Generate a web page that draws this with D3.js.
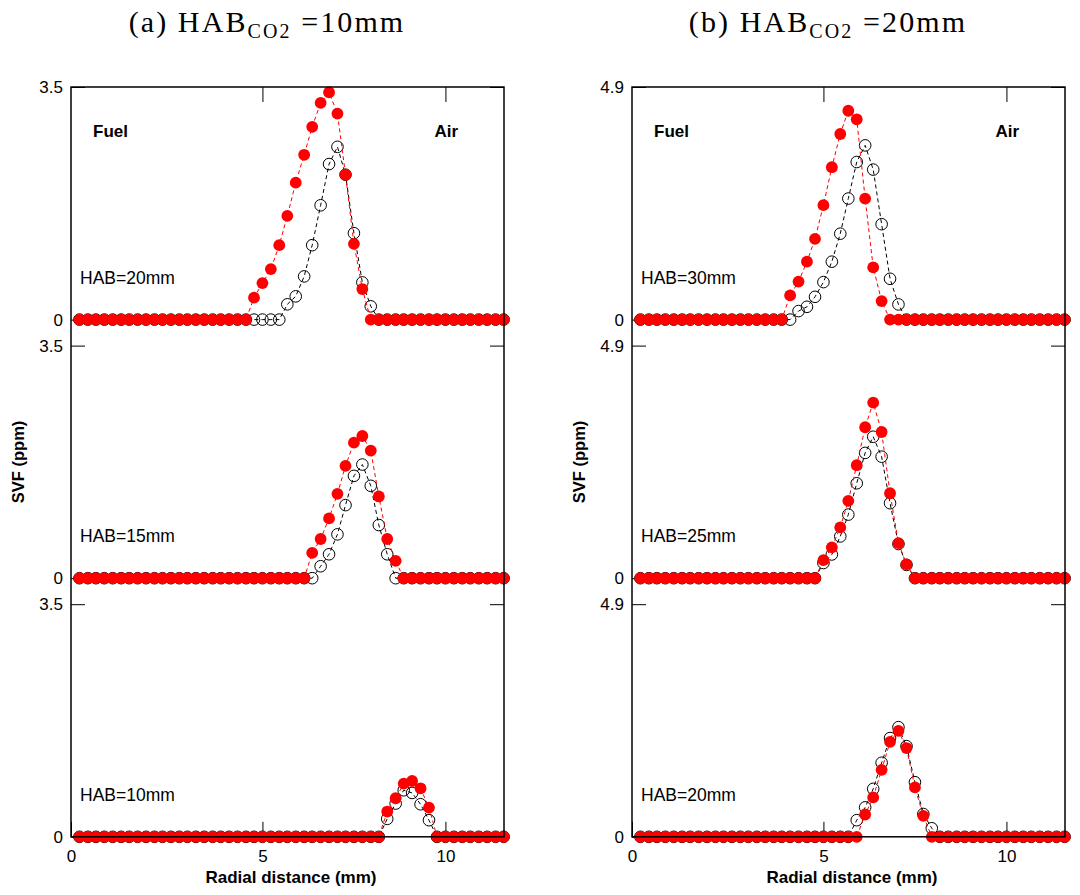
<!DOCTYPE html>
<html>
<head>
<meta charset="utf-8">
<script src="https://cdn.jsdelivr.net/npm/d3@7"></script>
<style>
  body { margin: 0; background: #fff; }
  text { font-family: "Liberation Sans", Arial, sans-serif; }
</style>
</head>
<body>
<script>
// radial positions (mm), shared by every profile
const radial = [0.00, 0.23, 0.45, 0.68, 0.91, 1.14, 1.36, 1.59, 1.82, 2.05,
  2.27, 2.50, 2.73, 2.95, 3.18, 3.41, 3.64, 3.86, 4.09, 4.32,
  4.55, 4.77, 5.00, 5.23, 5.46, 5.68, 5.91, 6.14, 6.36, 6.59,
  6.82, 7.05, 7.27, 7.50, 7.73, 7.96, 8.18, 8.41, 8.64, 8.86,
  9.09, 9.32, 9.55, 9.77, 10.00, 10.23, 10.46, 10.68, 10.91, 11.14,
  11.37, 11.59];

// (a) HAB_CO2 = 10mm
const a20open = [0,0,0,0,0,0,0,0,0,0, 0,0,0,0,0,0,0,0,0,0,
  0,0,0,0,0,0.23,0.35,0.65,1.12,1.72, 2.34,2.60,2.18,1.30,0.56,0.20,0,0,0,0,
  0,0,0,0,0,0,0,0,0,0, 0,0];
const a20red = [0,0,0,0,0,0,0,0,0,0, 0,0,0,0,0,0,0,0,0,0,
  0,0.33,0.55,0.76,1.12,1.56,2.06,2.48,2.90,3.26, 3.42,3.10,2.18,1.14,0.46,0,0,0,0,0,
  0,0,0,0,0,0,0,0,0,0, 0,0];
const a15open = [0,0,0,0,0,0,0,0,0,0, 0,0,0,0,0,0,0,0,0,0,
  0,0,0,0,0,0,0,0,0,0.18, 0.36,0.66,1.10,1.54,1.71,1.39,0.80,0.36,0,0,
  0,0,0,0,0,0,0,0,0,0, 0,0];
const a15red = [0,0,0,0,0,0,0,0,0,0, 0,0,0,0,0,0,0,0,0,0,
  0,0,0,0,0,0,0,0,0.38,0.59, 0.90,1.27,1.69,2.04,2.14,1.92,1.23,0.59,0.26,0,
  0,0,0,0,0,0,0,0,0,0, 0,0];
const a10open = [0,0,0,0,0,0,0,0,0,0, 0,0,0,0,0,0,0,0,0,0,
  0,0,0,0,0,0,0,0,0,0, 0,0,0,0,0,0,0,0.27,0.50,0.70,
  0.66,0.49,0.25,0,0,0,0,0,0,0, 0,0];
const a10red = [0,0,0,0,0,0,0,0,0,0, 0,0,0,0,0,0,0,0,0,0,
  0,0,0,0,0,0,0,0,0,0, 0,0,0,0,0,0,0,0.38,0.58,0.80,
  0.84,0.73,0.44,0,0,0,0,0,0,0, 0,0];

// (b) HAB_CO2 = 20mm
const b30open = [0,0,0,0,0,0,0,0,0,0, 0,0,0,0,0,0,0,0,0,0.18,
  0.27,0.48,0.79,1.22,1.81,2.55,3.32,3.67,3.16,2.01, 0.86,0.32,0,0,0,0,0,0,0,0,
  0,0,0,0,0,0,0,0,0,0, 0,0];
const b30red = [0,0,0,0,0,0,0,0,0,0, 0,0,0,0,0,0,0,0,0.51,0.80,
  1.22,1.70,2.41,3.21,3.91,4.40,4.22,2.55,1.10,0.39, 0,0,0,0,0,0,0,0,0,0,
  0,0,0,0,0,0,0,0,0,0, 0,0];
const b25open = [0,0,0,0,0,0,0,0,0,0, 0,0,0,0,0,0,0,0,0,0,
  0,0,0.32,0.50,0.88,1.34,2.00,2.64,2.98,2.56, 1.58,0.72,0.28,0,0,0,0,0,0,0,
  0,0,0,0,0,0,0,0,0,0, 0,0];
const b25red = [0,0,0,0,0,0,0,0,0,0, 0,0,0,0,0,0,0,0,0,0,
  0,0,0.38,0.65,1.07,1.63,2.38,3.18,3.70,3.08, 1.79,0.74,0.29,0,0,0,0,0,0,0,
  0,0,0,0,0,0,0,0,0,0, 0,0];
const b20open = [0,0,0,0,0,0,0,0,0,0, 0,0,0,0,0,0,0,0,0,0,
  0,0,0,0,0,0,0.35,0.62,1.01,1.56, 2.08,2.31,1.91,1.15,0.48,0.18,0,0,0,0,
  0,0,0,0,0,0,0,0,0,0, 0,0];
const b20red = [0,0,0,0,0,0,0,0,0,0, 0,0,0,0,0,0,0,0,0,0,
  0,0,0,0,0,0,0,0.47,0.83,1.41, 2.00,2.23,1.87,1.04,0.44,0,0,0,0,0,
  0,0,0,0,0,0,0,0,0,0, 0,0];

const titleLetters = ["(a)", "(b)"];
const titleValues = ["10mm", "20mm"];
const yMaxes = [3.5, 4.9];
const habLabels = [["HAB=20mm", "HAB=15mm", "HAB=10mm"], ["HAB=30mm", "HAB=25mm", "HAB=20mm"]];
const openSeries = [[a20open, a15open, a10open], [b30open, b25open, b20open]];
const redSeries = [[a20red, a15red, a10red], [b30red, b25red, b20red]];
const xTicks = [5, 10];

const w = 1080;
const h = 895;
const colX = [71, 632];
const plotW = 433;
const plotTop = 87;
const panelH = 232.6;
const panelStep = 258.6;
const plotBottom = plotTop + 2 * panelStep + panelH;
const xMin = -0.23;

const svg = d3.select("body").append("svg").attr("width", w).attr("height", h);

colX.forEach((x0, c) => {
  const g = svg.append("g");
  const xScale = d3.scaleLinear().domain([xMin, 11.6]).range([x0, x0 + plotW]);

  // title
  const t = g.append("text")
    .attr("x", x0 + 196)
    .attr("y", 32)
    .attr("text-anchor", "middle")
    .style("font-family", "'Liberation Serif', serif")
    .style("font-size", "30px")
    .style("letter-spacing", "2.1px");
  t.append("tspan").text(titleLetters[c] + " HAB");
  t.append("tspan").attr("dy", 6).style("font-size", "20px").text("CO2");
  t.append("tspan").attr("dy", -6).text(" =" + titleValues[c]);

  // x axes
  g.append("g")
    .attr("transform", `translate(0,${plotTop})`)
    .call(d3.axisTop(xScale).tickValues(xTicks).tickSize(-15).tickFormat(""))
    .call((s) => s.select(".domain").remove());

  g.append("g")
    .attr("transform", `translate(0,${plotBottom})`)
    .call(d3.axisBottom(xScale).tickValues([xMin, ...xTicks]).tickSize(-15).tickPadding(13)
      .tickFormat((d) => (d === xMin ? "0" : d)))
    .call((s) => s.select(".domain").remove())
    .call((s) => s.selectAll("text").style("font-size", "17px").attr("fill", "#000"));

  g.append("text")
    .attr("x", x0 + 220)
    .attr("y", 883)
    .attr("text-anchor", "middle")
    .style("font-size", "17px")
    .style("font-weight", "bold")
    .text("Radial distance (mm)");

  g.append("text")
    .attr("transform", `translate(${x0 - 53},${(plotTop + plotBottom) / 2}) rotate(-90)`)
    .attr("text-anchor", "middle")
    .attr("dy", "0.35em")
    .style("font-size", "16.5px")
    .style("font-weight", "bold")
    .text("SVF (ppm)");

  const line = d3.line();

  [0, 1, 2].forEach((p) => {
    const y0 = plotTop + p * panelStep;
    const yScale = d3.scaleLinear().domain([0, yMaxes[c]]).range([y0 + panelH, y0]);

    g.append("g")
      .attr("transform", `translate(${x0},0)`)
      .call(d3.axisLeft(yScale).tickValues([0, yMaxes[c]]).tickSize(-14).tickPadding(8)
        .tickFormat((d) => (d === 0 ? "0" : d)))
      .call((s) => s.select(".domain").remove())
      .call((s) => s.selectAll("text").style("font-size", "17px").attr("fill", "#000"));

    g.append("g")
      .attr("transform", `translate(${x0 + plotW},0)`)
      .call(d3.axisRight(yScale).tickValues([0, yMaxes[c]]).tickSize(-14).tickFormat(""))
      .call((s) => s.select(".domain").remove());

    line.x((d) => xScale(d[0])).y((d) => yScale(d[1]));

    const open = radial.map((r, i) => [r, openSeries[c][p][i]]);
    const red = radial.map((r, i) => [r, redSeries[c][p][i]]);

    g.append("path")
      .attr("d", line(open))
      .attr("fill", "none")
      .attr("stroke", "#000")
      .attr("stroke-width", 1)
      .attr("stroke-dasharray", "4,3");

    g.append("g")
      .selectAll("circle")
      .data(open)
      .enter()
      .append("circle")
      .attr("cx", (d) => xScale(d[0]))
      .attr("cy", (d) => yScale(d[1]))
      .attr("r", 5.8)
      .attr("fill", "none")
      .attr("stroke", "#000")
      .attr("stroke-width", 1);

    g.append("path")
      .attr("d", line(red))
      .attr("fill", "none")
      .attr("stroke", "#ff0000")
      .attr("stroke-width", 1)
      .attr("stroke-dasharray", "4,3");

    g.append("g")
      .selectAll("circle")
      .data(red)
      .enter()
      .append("circle")
      .attr("cx", (d) => xScale(d[0]))
      .attr("cy", (d) => yScale(d[1]))
      .attr("r", 5.9)
      .attr("fill", "#ff0000");

    g.append("text")
      .attr("x", x0 + 9)
      .attr("y", y0 + panelH - 36)
      .style("font-size", "17.5px")
      .text(habLabels[c][p]);

    if (p === 0) {
      g.append("text")
        .attr("x", x0 + 22)
        .attr("y", y0 + 50)
        .style("font-size", "17px")
        .style("font-weight", "bold")
        .text("Fuel");
      g.append("text")
        .attr("x", x0 + plotW - 46)
        .attr("y", y0 + 50)
        .attr("text-anchor", "end")
        .style("font-size", "17px")
        .style("font-weight", "bold")
        .text("Air");
    }
  });

  // frame
  g.append("rect")
    .attr("x", x0)
    .attr("y", plotTop)
    .attr("width", plotW)
    .attr("height", plotBottom - plotTop)
    .attr("fill", "none")
    .attr("stroke", "#000")
    .attr("stroke-width", 1.5);
});
</script>
</body>
</html>
